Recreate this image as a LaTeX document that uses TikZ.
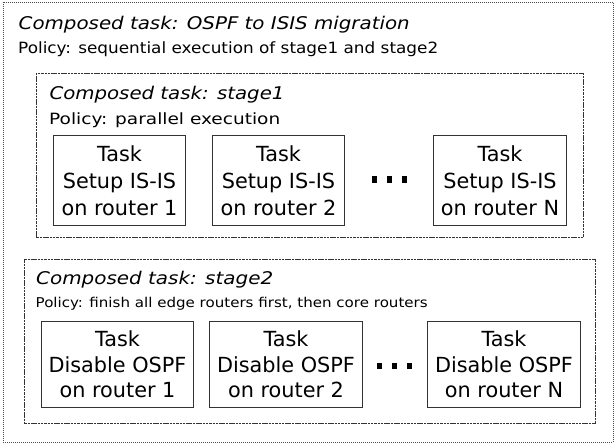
\documentclass[tikz,border=0pt]{standalone}
\usepackage{graphicx}
\usepackage{fontspec}
\setmainfont{DejaVu Sans}
\newcommand{\fitw}[2]{\resizebox{#1}{\height}{#2}}
\begin{document}
\begin{tikzpicture}[x=1pt,y=-1pt,
  outerbox/.style={draw=black!70, line width=0.8pt, dash pattern=on 1pt off 1pt, inner sep=0pt, anchor=north west},
  stagebox/.style={draw=black!80, line width=0.9pt, dash pattern=on 2.5pt off 0.8pt, inner sep=0pt, anchor=north west},
  taskbox/.style={draw=black!80, line width=1pt, align=center, inner sep=0pt, anchor=north west},
  taskA/.style={taskbox, font=\fontsize{20.8}{27}\selectfont, minimum height=90pt},
  taskB/.style={taskbox, font=\fontsize{20.8}{25.5}\selectfont, minimum height=86pt},
  titletext/.style={anchor=base west, inner sep=0pt, font=\itshape\fontsize{17.5}{20}\selectfont},
  policytext/.style={anchor=base west, inner sep=0pt, font=\fontsize{15.5}{18}\selectfont},
  smallpolicy/.style={anchor=base west, inner sep=0pt, font=\fontsize{13.5}{15}\selectfont},
  dot/.style={fill=black, draw=none, minimum width=4.5pt, minimum height=6.5pt, inner sep=0pt}
]
\useasboundingbox (0,0) rectangle (615,444);
% outer
\node[outerbox, minimum width=610pt, minimum height=440pt] (outer) at (3,2) {};
\node[titletext] (t0) at (18.5,29.5) {\fitw{391pt}{Composed task: OSPF to ISIS migration}};
\node[policytext] (p0) at (18,54) {\fitw{420pt}{Policy: sequential execution of stage1 and stage2}};
% stage 1
\node[stagebox, minimum width=547pt, minimum height=164pt] (s1) at (36,73) {};
\node[titletext] (t1) at (49.3,99.5) {\fitw{235pt}{Composed task: stage1}};
\node[policytext] (p1) at (49,124) {\fitw{231pt}{Policy: parallel execution}};
\node[taskA, minimum width=132pt] (a1) at (53,135) {Task\\Setup IS-IS\\on router 1};
\node[taskA, minimum width=132pt] (a2) at (212,135) {Task\\Setup IS-IS\\on router 2};
\node[taskA, minimum width=133pt] (aN) at (433,135) {Task\\Setup IS-IS\\on router N};
\node[dot] (d11) at (374.5,179.5) {};
\node[dot] (d12) at (389.5,179.5) {};
\node[dot] (d13) at (404.5,179.5) {};
% stage 2
\node[stagebox, minimum width=571pt, minimum height=164pt] (s2) at (24,259) {};
\node[titletext] (t2) at (36,284) {\fitw{237pt}{Composed task: stage2}};
\node[smallpolicy] (p2) at (35.5,307.5) {\fitw{392pt}{Policy: finish all edge routers first, then core routers}};
\node[taskB, minimum width=152pt] (b1) at (41,321) {Task\\Disable OSPF\\on router 1};
\node[taskB, minimum width=153pt] (b2) at (209,321) {Task\\Disable OSPF\\on router 2};
\node[taskB, minimum width=153pt] (bN) at (427,321) {Task\\Disable OSPF\\on router N};
\node[dot] (d21) at (379.5,366) {};
\node[dot] (d22) at (394.5,366) {};
\node[dot] (d23) at (409.5,366) {};
\end{tikzpicture}
\end{document}
